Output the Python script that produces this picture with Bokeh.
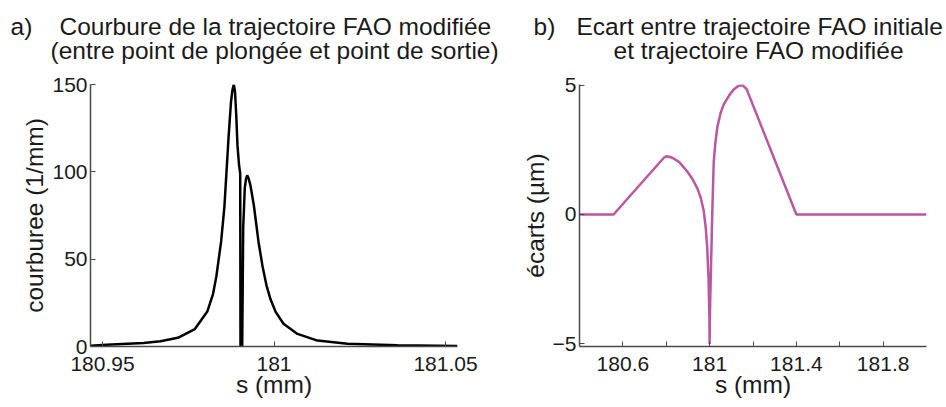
from bokeh.plotting import figure
from bokeh.models import Range1d, FixedTicker, Label
from bokeh.layouts import row, column
from bokeh.embed import file_html
from bokeh.resources import INLINE

# ---- data ----
# a) courbure (1/mm) vs s (mm)
s_courbure = [180.9465, 180.95117, 180.96195, 180.96691, 180.97195, 180.97694, 180.98055,
              180.98222, 180.98318, 180.98458, 180.98554, 180.98615, 180.98676, 180.98746,
              180.9879, 180.98828, 180.98863, 180.98898, 180.98936, 180.9898, 180.99015,
              180.99023, 180.99073, 180.99102, 180.99149, 180.99184, 180.99219, 180.99257,
              180.99315, 180.99411, 180.99548, 180.99665, 180.99781, 180.99898, 181.00044,
              181.00277, 181.00685, 181.01268, 181.02143, 181.03601, 181.0535]
courbure = [0.4, 1.0, 2.0, 3.0, 5.0, 10, 20,
            30, 40, 60, 80, 100, 120, 140,
            147, 150, 146, 133, 115, 104, 99,
            0, 0, 68, 91, 96, 98, 96.5,
            92, 81, 60, 46, 35, 27, 20,
            13, 7.2, 3.4, 1.6, 0.7, 0.3]

# b) écarts (µm) vs s (mm)
s_ecarts = [180.4, 180.557, 180.79, 180.8, 180.81, 180.83, 180.86, 180.896, 180.92,
            180.943, 180.96, 180.973, 180.982, 180.989, 180.995, 180.999, 181.0,
            181.001, 181.004, 181.007, 181.012, 181.019, 181.027, 181.035, 181.05,
            181.065, 181.09, 181.111, 181.13, 181.15, 181.17, 181.4, 182.0]
ecarts = [0, 0, 2.2, 2.25, 2.24, 2.18, 2.02, 1.67, 1.38,
          1.02, 0.62, 0.12, -0.5, -1.3, -2.5, -4.0, -5.0,
          -4.0, -2.9, -1.8, 0.0, 2.05, 2.8, 3.35, 3.9,
          4.25, 4.6, 4.83, 4.95, 5.0, 4.85, 0.0, 0.0]

ticks_a_x = [180.95, 181.0, 181.05]
labels_a_x = ["180.95", "181", "181.05"]
ticks_a_y = [0, 50, 100, 150]
ticks_b_x = [180.6, 180.8, 181.0, 181.2, 181.4, 181.6, 181.8]
labels_b_x = ["180.6", "", "181", "", "181.4", "", "181.8"]
ticks_b_y = [-5, 0, 5]

titles_a = ["a)", "Courbure de la trajectoire FAO modifiée",
            "(entre point de plongée et point de sortie)"]
titles_b = ["b)", "Ecart entre trajectoire FAO initiale",
            "et trajectoire FAO modifiée"]

FONT = "Liberation Sans"
TICK_FS = "21px"
LAB_FS = "24.5px"
TITLE_FS = "24.5px"
AXIS_COL = "#4a4a4a"
TEXT_COL = "#1a1a1a"

W_TOTAL = 946
TITLE_H = 66
PLOT_H = 341


def style(p):
    p.outline_line_color = None
    p.xgrid.visible = False
    p.ygrid.visible = False
    for ax in (p.xaxis[0], p.yaxis[0]):
        ax.axis_line_color = AXIS_COL
        ax.axis_line_width = 1.5
        ax.major_tick_line_color = AXIS_COL
        ax.major_tick_in = 5
        ax.major_tick_out = 0
        ax.minor_tick_line_color = None
        ax.major_label_text_font = FONT
        ax.major_label_text_font_size = TICK_FS
        ax.major_label_text_color = TEXT_COL
        ax.axis_label_text_font = FONT
        ax.axis_label_text_font_size = LAB_FS
        ax.axis_label_text_font_style = "normal"
        ax.axis_label_text_color = TEXT_COL
    p.xaxis[0].major_label_standoff = 10
    p.xaxis[0].axis_label_standoff = -3
    p.yaxis[0].major_label_standoff = 3
    p.yaxis[0].axis_label_standoff = 1


# ---- title band (pixel-like coordinates, y downward) ----
pt = figure(width=W_TOTAL, height=TITLE_H, output_backend="svg", toolbar_location=None,
            x_range=Range1d(0, W_TOTAL), y_range=Range1d(TITLE_H, 0),
            x_axis_location=None, y_axis_location=None, min_border=0,
            outline_line_color=None)
pt.grid.visible = False
common = dict(text_font=FONT, text_font_size=TITLE_FS, text_color=TEXT_COL,
              text_baseline="alphabetic", text_align="left")
for txt, x, y in zip(titles_a, [10, 59, 50], [26, 26, 50]):
    pt.add_layout(Label(x=x, y=y, text=txt, **common))
for txt, x, y in zip(titles_b, [533, 576, 613], [26, 26, 50]):
    pt.add_layout(Label(x=x, y=y, text=txt, **common))

# ---- a) ----
p1 = figure(width=488, height=PLOT_H, output_backend="svg", toolbar_location=None,
            title=None,
            x_range=Range1d(180.9465, 181.0535), y_range=Range1d(0, 150),
            min_border_left=90, min_border_right=31, min_border_top=18,
            min_border_bottom=61)
p1.line(s_courbure, courbure, line_color="black", line_width=2.5)
p1.xaxis.ticker = FixedTicker(ticks=ticks_a_x)
p1.xaxis.major_label_overrides = {t: l for t, l in zip(ticks_a_x, labels_a_x)}
p1.yaxis.ticker = FixedTicker(ticks=ticks_a_y)
p1.xaxis.axis_label = "s (mm)"
p1.yaxis.axis_label = "courburee (1/mm)"
style(p1)

# ---- b) ----
p2 = figure(width=W_TOTAL - 488, height=PLOT_H, output_backend="svg", toolbar_location=None,
            title=None,
            x_range=Range1d(180.4, 182.0), y_range=Range1d(-5.1, 5.02),
            min_border_left=91, min_border_right=20, min_border_top=18,
            min_border_bottom=61)
p2.line(s_ecarts, ecarts, line_color="#bb56a0", line_width=2.5)
p2.xaxis.ticker = FixedTicker(ticks=ticks_b_x)
p2.xaxis.major_label_overrides = {t: l for t, l in zip(ticks_b_x, labels_b_x)}
p2.yaxis.ticker = FixedTicker(ticks=ticks_b_y)
p2.xaxis.axis_label = "s (mm)"
p2.yaxis.axis_label = "écarts (µm)"
style(p2)

layout = column(pt, row(p1, p2, spacing=0), spacing=0)
open("out.html", "w").write(file_html(layout, INLINE))
